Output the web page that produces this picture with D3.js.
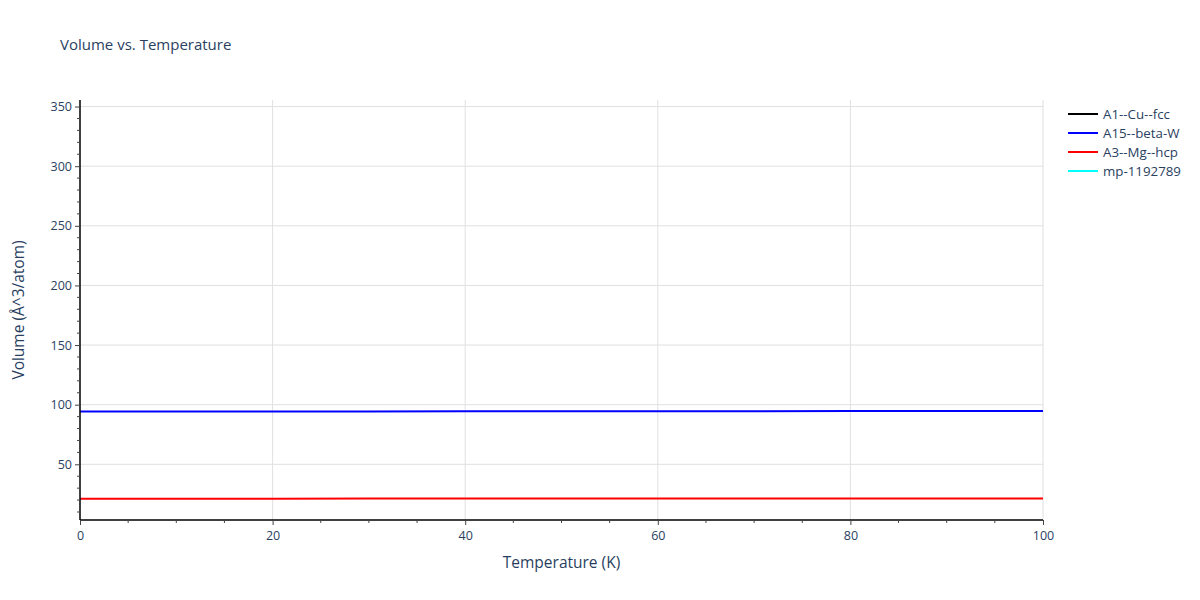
<!DOCTYPE html>
<html>
<head>
<meta charset="utf-8">
<script src="https://cdn.jsdelivr.net/npm/d3@7"></script>
<style>
  body { margin: 0; background: #fff; }
  text { font-family: "Open Sans", sans-serif; fill: #2a3f5f; }
</style>
</head>
<body>
<div id="chart"></div>
<script>
var width = 1200,
  height = 600;

// temperatures (K)
var temps = [0, 10, 20, 30, 40, 50, 60, 70, 80, 90, 100];

// volumes (Å^3/atom)
var cuFcc = [];          // A1--Cu--fcc : no visible line
var betaW = [94.2, 94.25, 94.3, 94.35, 94.4, 94.45, 94.5, 94.55, 94.6, 94.65, 94.7];
var mgHcp = [21.2, 21.21, 21.22, 21.23, 21.24, 21.25, 21.26, 21.27, 21.28, 21.29, 21.3];
var mp1192789 = [];      // no visible line

var seriesNames = ["A1--Cu--fcc", "A15--beta-W", "A3--Mg--hcp", "mp-1192789"];
var seriesColors = ["black", "blue", "red", "cyan"];
var seriesValues = [cuFcc, betaW, mgHcp, mp1192789];

var xTicks = [0, 20, 40, 60, 80, 100];
var yTicks = [50, 100, 150, 200, 250, 300, 350];

var margin = { left: 80, right: 157, top: 100, bottom: 80 };
var plotW = width - margin.left - margin.right,
  plotH = height - margin.top - margin.bottom;

var x = d3.scaleLinear().domain([0, 100]).range([0, plotW]);
var y = d3.scaleLinear().domain([3.3, 355.5]).range([plotH, 0]);

var svg = d3.select("#chart")
  .append("svg")
  .attr("width", width)
  .attr("height", height);

svg.append("text")
  .attr("x", 60)
  .attr("y", 50)
  .style("font-size", "15px")
  .text("Volume vs. Temperature");

var g = svg.append("g")
  .attr("transform", "translate(" + margin.left + "," + margin.top + ")");

// grid
g.append("g").selectAll("line")
  .data(xTicks.filter(function (d) { return d > 0; }))
  .enter().append("line")
  .attr("x1", function (d) { return x(d); })
  .attr("x2", function (d) { return x(d); })
  .attr("y1", 0).attr("y2", plotH)
  .attr("stroke", "#e0e0e0").attr("stroke-width", 1);

g.append("g").selectAll("line")
  .data(yTicks)
  .enter().append("line")
  .attr("y1", function (d) { return y(d); })
  .attr("y2", function (d) { return y(d); })
  .attr("x1", 0).attr("x2", plotW)
  .attr("stroke", "#e0e0e0").attr("stroke-width", 1);

// lines
var line = d3.line()
  .x(function (d, i) { return x(temps[i]); })
  .y(function (d) { return y(d); });

seriesValues.forEach(function (vals, i) {
  if (!vals.length) return;
  g.append("path")
    .datum(vals)
    .attr("fill", "none")
    .attr("stroke", seriesColors[i])
    .attr("stroke-width", 2)
    .attr("d", line);
});

// minor ticks
var xMinor = d3.range(0, 101, 5).filter(function (d) { return d % 20 !== 0; });
var yMinor = d3.range(10, 351, 10).filter(function (d) { return d % 50 !== 0; });

var xAxis = g.append("g")
  .attr("transform", "translate(0," + plotH + ")")
  .call(d3.axisBottom(x).tickValues(xTicks).tickSize(5).tickPadding(6));
xAxis.append("g").selectAll("line")
  .data(xMinor).enter().append("line")
  .attr("x1", function (d) { return x(d); })
  .attr("x2", function (d) { return x(d); })
  .attr("y1", 0).attr("y2", 3)
  .attr("stroke", "#444");

var yAxis = g.append("g")
  .call(d3.axisLeft(y).tickValues(yTicks).tickSize(5).tickPadding(3));
yAxis.append("g").selectAll("line")
  .data(yMinor).enter().append("line")
  .attr("y1", function (d) { return y(d); })
  .attr("y2", function (d) { return y(d); })
  .attr("x1", 0).attr("x2", -3)
  .attr("stroke", "#444");

[xAxis, yAxis].forEach(function (a) {
  a.select(".domain").attr("stroke", "black").attr("stroke-width", 1.5);
  a.selectAll(".tick line").attr("stroke", "#444");
  a.selectAll(".tick text")
    .style("font-family", "'Open Sans', sans-serif")
    .style("font-size", "12.5px")
    .attr("fill", "#2a3f5f");
});
xAxis.select(".domain").attr("d", "M0,0H" + plotW);
yAxis.select(".domain").attr("d", "M0," + plotH + "V0");

// axis titles
svg.append("text")
  .attr("x", margin.left + plotW / 2)
  .attr("y", 568)
  .attr("text-anchor", "middle")
  .style("font-size", "15.5px")
  .text("Temperature (K)");

svg.append("text")
  .attr("transform", "translate(24," + (margin.top + plotH / 2) + ")rotate(-90)")
  .attr("text-anchor", "middle")
  .style("font-size", "15.5px")
  .text("Volume (Å^3/atom)");

// legend
var legend = svg.append("g")
  .attr("transform", "translate(1068,114)");

var items = legend.selectAll("g")
  .data(seriesNames)
  .enter().append("g")
  .attr("transform", function (d, i) { return "translate(0," + i * 19 + ")"; });

items.append("line")
  .attr("x1", 0).attr("x2", 30)
  .attr("stroke", function (d, i) { return seriesColors[i]; })
  .attr("stroke-width", 2);

items.append("text")
  .attr("x", 35)
  .attr("y", 4.5)
  .style("font-size", "13.3px")
  .text(function (d) { return d; });
</script>
</body>
</html>
